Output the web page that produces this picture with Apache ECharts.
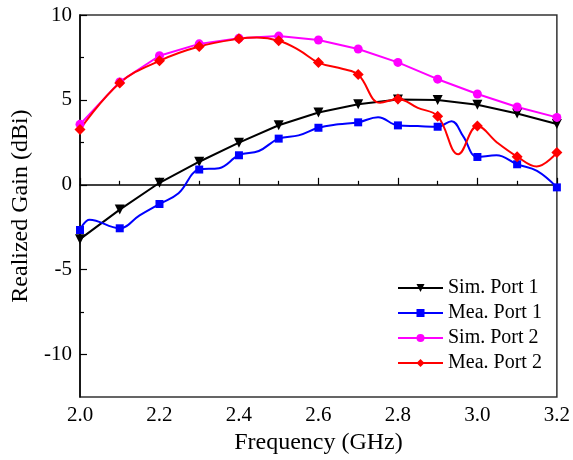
<!DOCTYPE html>
<html>
<head>
<meta charset="utf-8">
<script src="https://cdn.jsdelivr.net/npm/echarts@6/dist/echarts.min.js"></script>
<style>
html,body{margin:0;padding:0;background:#fff;}
#container{width:573px;height:460px;}
</style>
</head>
<body>
<div id="container"></div>
<script>
// 仿真曲线 (0.1 GHz 步长)
var simFreq = [2.0, 2.1, 2.2, 2.3, 2.4, 2.5, 2.6, 2.7, 2.8, 2.9, 3.0, 3.1, 3.2];
var simPort1 = [-3.2, -1.46, 0.12, 1.36, 2.48, 3.51, 4.26, 4.74, 5.02, 5.0, 4.72, 4.2, 3.58];
var simPort2 = [3.56, 6.06, 7.6, 8.3, 8.63, 8.76, 8.53, 8.0, 7.21, 6.22, 5.35, 4.58, 3.97];

// 实测曲线
var meaFreq1 = [2.0, 2.024, 2.1, 2.15, 2.2, 2.248, 2.3, 2.35, 2.4, 2.45, 2.5, 2.55, 2.6, 2.65, 2.7, 2.75, 2.8, 2.85, 2.9, 2.935, 2.964, 3.0, 3.048, 3.1, 3.15, 3.2];
var meaPort1 = [-2.66, -2.05, -2.56, -1.8, -1.13, -0.5, 0.9, 0.98, 1.74, 1.99, 2.72, 2.91, 3.36, 3.56, 3.68, 3.98, 3.5, 3.46, 3.42, 3.75, 2.87, 1.64, 1.74, 1.21, 0.82, -0.15];
var meaFreq2 = [2.0, 2.1, 2.2, 2.3, 2.4, 2.445, 2.5, 2.55, 2.6, 2.662, 2.7, 2.755, 2.8, 2.85, 2.9, 2.952, 3.0, 3.05, 3.1, 3.149, 3.2];
var meaPort2 = [3.26, 6.0, 7.3, 8.14, 8.6, 8.67, 8.48, 7.95, 7.2, 6.82, 6.49, 4.83, 5.06, 4.53, 4.04, 1.8, 3.46, 2.48, 1.66, 1.08, 1.9];

var seriesNames = ['Sim. Port 1', 'Mea. Port 1', 'Sim. Port 2', 'Mea. Port 2'];
var xMajor = [2.0, 2.2, 2.4, 2.6, 2.8, 3.0, 3.2];
var xMinor = [2.1, 2.3, 2.5, 2.7, 2.9, 3.1];
var yMajor = [-10, -5, 0, 5, 10];
var yMinor = [-7.5, -2.5, 2.5, 7.5];

var FONT = 'Liberation Serif';

// 只在 0.1 GHz 整点画标记
function buildData(freq, vals) {
    var res = [];
    for (var i = 0; i < freq.length; i++) {
        var f = freq[i];
        var onGrid = Math.abs(f * 10 - Math.round(f * 10)) < 1e-6;
        var item = { value: [f, vals[i]] };
        if (!onGrid) item.symbol = 'none';
        res.push(item);
    }
    return res;
}

function lineSeries(name, freq, vals, color, symbol, size, smooth, rotate) {
    return {
        name: name,
        type: 'line',
        data: buildData(freq, vals),
        smooth: smooth,
        symbol: symbol,
        symbolSize: size,
        symbolRotate: rotate || 0,
        showAllSymbol: true,
        lineStyle: { color: color, width: 2 },
        itemStyle: { color: color },
        animation: false
    };
}

var option = {
    backgroundColor: '#fff',
    textStyle: { fontFamily: FONT },
    grid: {
        left: 80, right: 16, top: 15, bottom: 61,
        show: true, borderColor: '#333', borderWidth: 1.5
    },
    legend: {
        orient: 'vertical',
        left: 397, top: 278, padding: 0,
        itemWidth: 45, itemHeight: 10, itemGap: 5,
        data: seriesNames,
        textStyle: { fontFamily: FONT, fontSize: 20, color: '#000' }
    },
    xAxis: [{
        type: 'value', min: 2.0, max: 3.2,
        name: 'Frequency (GHz)', nameLocation: 'middle', nameGap: 23,
        nameTextStyle: { fontFamily: FONT, fontSize: 24, color: '#000' },
        axisLine: { show: true, lineStyle: { color: '#000', width: 1.5 } },
        axisTick: { show: true, inside: true, length: 7, customValues: xMajor, lineStyle: { color: '#000', width: 1.2 } },
        axisLabel: { customValues: xMajor, margin: 8, fontFamily: FONT, fontSize: 21, color: '#000',
            formatter: function (v) { return v.toFixed(1); } },
        splitLine: { show: false }
    }, {
        type: 'value', min: 2.0, max: 3.2, position: 'bottom',
        axisLine: { show: false },
        axisTick: { show: true, inside: true, length: 4, customValues: xMinor, lineStyle: { color: '#000', width: 1.2 } },
        axisLabel: { show: false },
        splitLine: { show: false }
    }],
    yAxis: [{
        type: 'value', min: -12.5, max: 10,
        name: 'Realized Gain (dBi)', nameLocation: 'middle', nameGap: 46,
        nameTextStyle: { fontFamily: FONT, fontSize: 24, color: '#000' },
        axisLine: { show: true, lineStyle: { color: '#000', width: 1.5 } },
        axisTick: { show: true, inside: true, length: 7, customValues: yMajor, lineStyle: { color: '#000', width: 1.2 } },
        axisLabel: { customValues: yMajor, margin: 8, fontFamily: FONT, fontSize: 21, color: '#000' },
        splitLine: { show: false }
    }, {
        type: 'value', min: -12.5, max: 10, position: 'left',
        axisLine: { show: false },
        axisTick: { show: true, inside: true, length: 4, customValues: yMinor, lineStyle: { color: '#000', width: 1.2 } },
        axisLabel: { show: false },
        splitLine: { show: false }
    }],
    series: [
        lineSeries(seriesNames[0], simFreq, simPort1, '#000000', 'triangle', 10, false, 180),
        lineSeries(seriesNames[1], meaFreq1, meaPort1, '#0000ff', 'rect', 8, 0.4),
        lineSeries(seriesNames[2], simFreq, simPort2, '#ff00ff', 'circle', 9, false),
        lineSeries(seriesNames[3], meaFreq2, meaPort2, '#ff0000', 'diamond', 11, 0.4)
    ]
};

var myChart = echarts.init(document.getElementById('container'));
myChart.setOption(option);
</script>
</body>
</html>
